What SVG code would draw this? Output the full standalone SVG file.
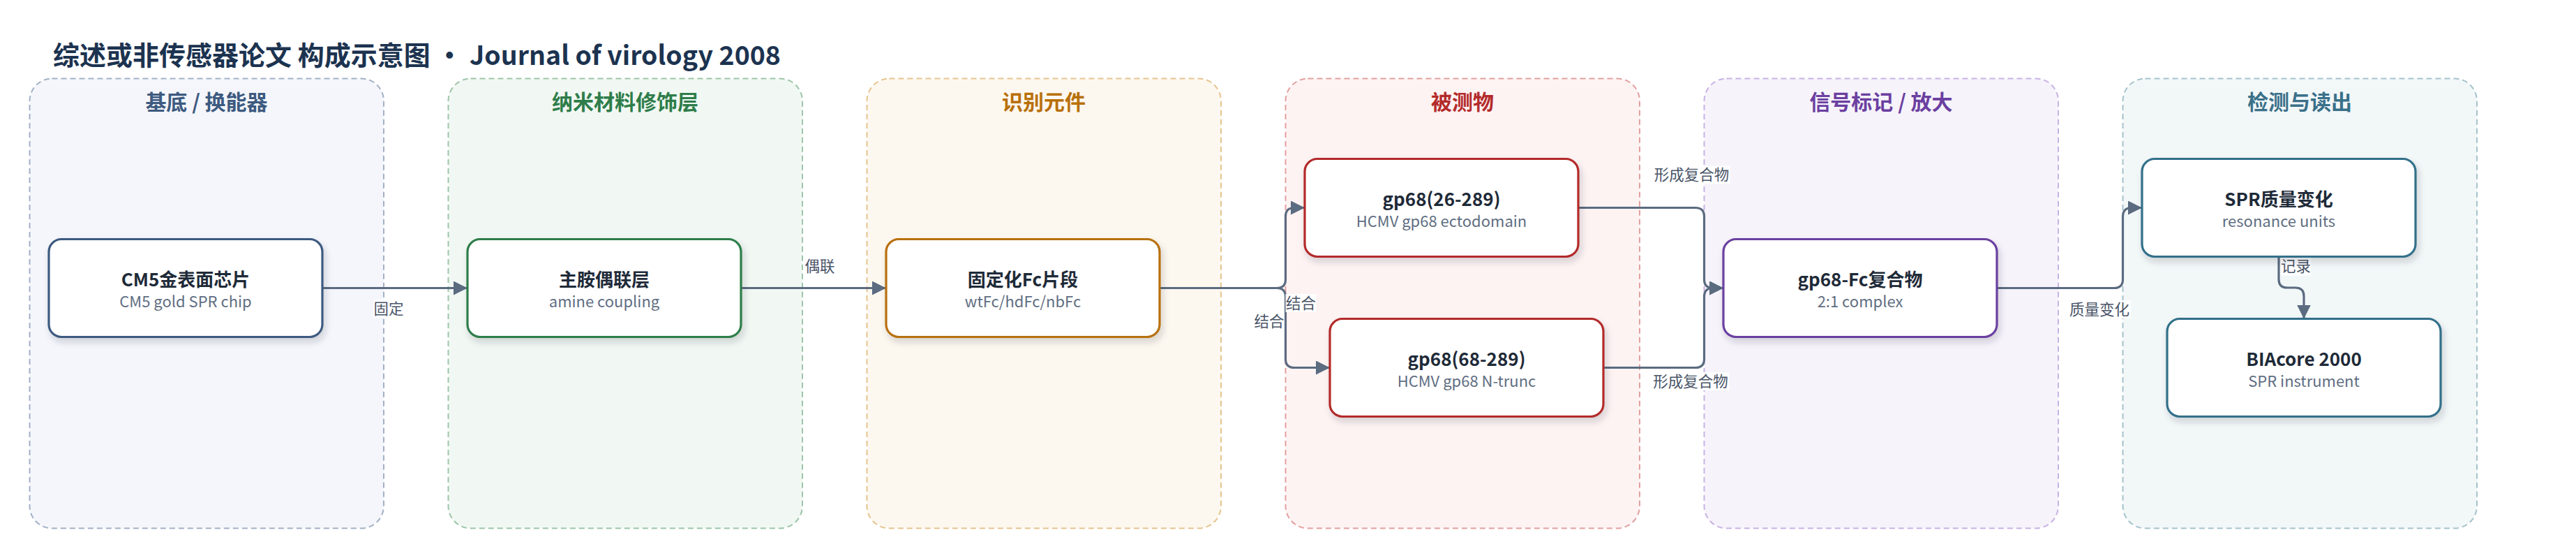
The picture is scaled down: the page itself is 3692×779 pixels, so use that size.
<svg xmlns="http://www.w3.org/2000/svg" width="3692" height="779" viewBox="0 0 3692 779">
<defs>
<style>
text{font-family:"Noto Sans CJK SC","Noto Sans",sans-serif}
.main{font-size:38px;font-weight:700;fill:#1c3350}
.lane{stroke-width:2;stroke-dasharray:8 5}
.lt{font-size:30px;font-weight:700;text-anchor:middle}
.node{fill:#fff;stroke-width:3.2;filter:url(#sh)}
.t1{font-size:26px;font-weight:700;fill:#1e2a38;text-anchor:middle}
.t2{font-size:22px;fill:#5f6e82;text-anchor:middle}
.e{fill:none;stroke:#5b6b80;stroke-width:3.2;marker-end:url(#ah)}
.lb{fill:#fff;fill-opacity:0.9}
.lbt{font-size:21.5px;fill:#4a5568;text-anchor:middle}
</style>
<filter id="sh" x="-10%" y="-20%" width="125%" height="150%">
<feDropShadow dx="3" dy="6" stdDeviation="5" flood-color="#1e2a38" flood-opacity="0.18"/>
</filter>
<marker id="ah" markerUnits="userSpaceOnUse" markerWidth="20" markerHeight="20" refX="20" refY="10" orient="auto">
<path d="M0,0 L20,10 L0,20 z" fill="#5b6b80"/>
</marker>
</defs>
<rect width="3692" height="779" fill="#fff"/>
<g id="title">
<text class="main" x="76" y="93">综述或非传感器论文 构成示意图 •</text>
<text class="main" x="673" y="93" textLength="446" lengthAdjust="spacingAndGlyphs">Journal of virology 2008</text>
</g>

<g id="lanes">
<g id="lane1"><rect class="lane" x="42.5" y="112.5" width="507.5" height="644" rx="32" fill="#f4f6fb" stroke="#a3b1c6"/><text class="lt" x="296" y="157" fill="#3d5a80">基底 / 换能器</text></g>
<g id="lane2"><rect class="lane" x="642.5" y="112.5" width="507.5" height="644" rx="32" fill="#f1f8f3" stroke="#9ec5a9"/><text class="lt" x="896" y="157" fill="#2e7d4a">纳米材料修饰层</text></g>
<g id="lane3"><rect class="lane" x="1242.5" y="112.5" width="507.5" height="644" rx="32" fill="#fdf8ef" stroke="#e6c48f"/><text class="lt" x="1496" y="157" fill="#b8700a">识别元件</text></g>
<g id="lane4"><rect class="lane" x="1842.5" y="112.5" width="507.5" height="644" rx="32" fill="#fdf3f3" stroke="#e3a0a0"/><text class="lt" x="2096" y="157" fill="#b32b2b">被测物</text></g>
<g id="lane5"><rect class="lane" x="2442.5" y="112.5" width="507.5" height="644" rx="32" fill="#f6f3fb" stroke="#c8b3e3"/><text class="lt" x="2696" y="157" fill="#6b3fa0">信号标记 / 放大</text></g>
<g id="lane6"><rect class="lane" x="3042.5" y="112.5" width="507.5" height="644" rx="32" fill="#f2f7f8" stroke="#a6c3cc"/><text class="lt" x="3296" y="157" fill="#3a7089">检测与读出</text></g>
</g>

<g id="connectors">
<path class="e" d="M462,412.5 H670"/>
<path class="e" d="M1062,412.5 H1270"/>
<path class="e" d="M1662,412.5 H1830 Q1842.5,412.5 1842.5,400 V310 Q1842.5,297.5 1855,297.5 H1870"/>
<path class="e" d="M1662,412.5 H1830 Q1842.5,412.5 1842.5,425 V514 Q1842.5,526.5 1855,526.5 H1906"/>
<path class="e" d="M2262,297.5 H2430 Q2442.5,297.5 2442.5,310 V400 Q2442.5,412.5 2455,412.5 H2470"/>
<path class="e" d="M2297.5,526.5 H2430 Q2442.5,526.5 2442.5,514 V425 Q2442.5,412.5 2455,412.5 H2470"/>
<path class="e" d="M2862,412.5 H3030 Q3042.5,412.5 3042.5,400 V310 Q3042.5,297.5 3055,297.5 H3070"/>
<path class="e" d="M3266,367.5 V400 Q3266,412 3278,412 H3290 Q3302,412 3302,424 V456.5"/>
<g id="edge-labels">
<rect class="lb" x="535" y="429" width="44" height="26"/><text class="lbt" x="557" y="449.5">固定</text>
<rect class="lb" x="1153" y="368" width="44" height="26"/><text class="lbt" x="1175" y="388.5">偶联</text>
<rect class="lb" x="1842.5" y="421" width="44" height="26"/><text class="lbt" x="1864.5" y="441.5">结合</text>
<rect class="lb" x="1797" y="447" width="44" height="26"/><text class="lbt" x="1819" y="467.5">结合</text>
<rect class="lb" x="2369" y="237.5" width="111" height="26"/><text class="lbt" x="2424.5" y="258">形成复合物</text>
<rect class="lb" x="2367.5" y="533" width="111" height="26"/><text class="lbt" x="2423" y="553.5">形成复合物</text>
<rect class="lb" x="2964" y="430" width="90" height="26"/><text class="lbt" x="3009" y="450.5">质量变化</text>
<rect class="lb" x="3268.5" y="368.5" width="44" height="26"/><text class="lbt" x="3290.5" y="389">记录</text>
</g>
</g>

<g id="n1"><rect class="node" x="70" y="342.5" width="392" height="140" rx="18" stroke="#3d5a80"/><text class="t1" x="266" y="410">CM5金表面芯片</text><text class="t2" x="266" y="440">CM5 gold SPR chip</text></g>
<g id="n2"><rect class="node" x="670" y="342.5" width="392" height="140" rx="18" stroke="#2e7d4a"/><text class="t1" x="866" y="410">主胺偶联层</text><text class="t2" x="866" y="440">amine coupling</text></g>
<g id="n3"><rect class="node" x="1270" y="342.5" width="392" height="140" rx="18" stroke="#b8700a"/><text class="t1" x="1466" y="410">固定化Fc片段</text><text class="t2" x="1466" y="440">wtFc/hdFc/nbFc</text></g>
<g id="n4"><rect class="node" x="1870" y="227.5" width="392" height="140" rx="18" stroke="#b32b2b"/><text class="t1" x="2066" y="295">gp68(26-289)</text><text class="t2" x="2066" y="325">HCMV gp68 ectodomain</text></g>
<g id="n5"><rect class="node" x="1906" y="456.5" width="392" height="140" rx="18" stroke="#b32b2b"/><text class="t1" x="2102" y="524">gp68(68-289)</text><text class="t2" x="2102" y="554">HCMV gp68 N-trunc</text></g>
<g id="n6"><rect class="node" x="2470" y="342.5" width="392" height="140" rx="18" stroke="#6b3fa0"/><text class="t1" x="2666" y="410">gp68-Fc复合物</text><text class="t2" x="2666" y="440">2:1 complex</text></g>
<g id="n7"><rect class="node" x="3070" y="227.5" width="392" height="140" rx="18" stroke="#33708a"/><text class="t1" x="3266" y="295">SPR质量变化</text><text class="t2" x="3266" y="325">resonance units</text></g>
<g id="n8"><rect class="node" x="3106" y="456.5" width="392" height="140" rx="18" stroke="#33708a"/><text class="t1" x="3302" y="524">BIAcore 2000</text><text class="t2" x="3302" y="554">SPR instrument</text></g>
</svg>
